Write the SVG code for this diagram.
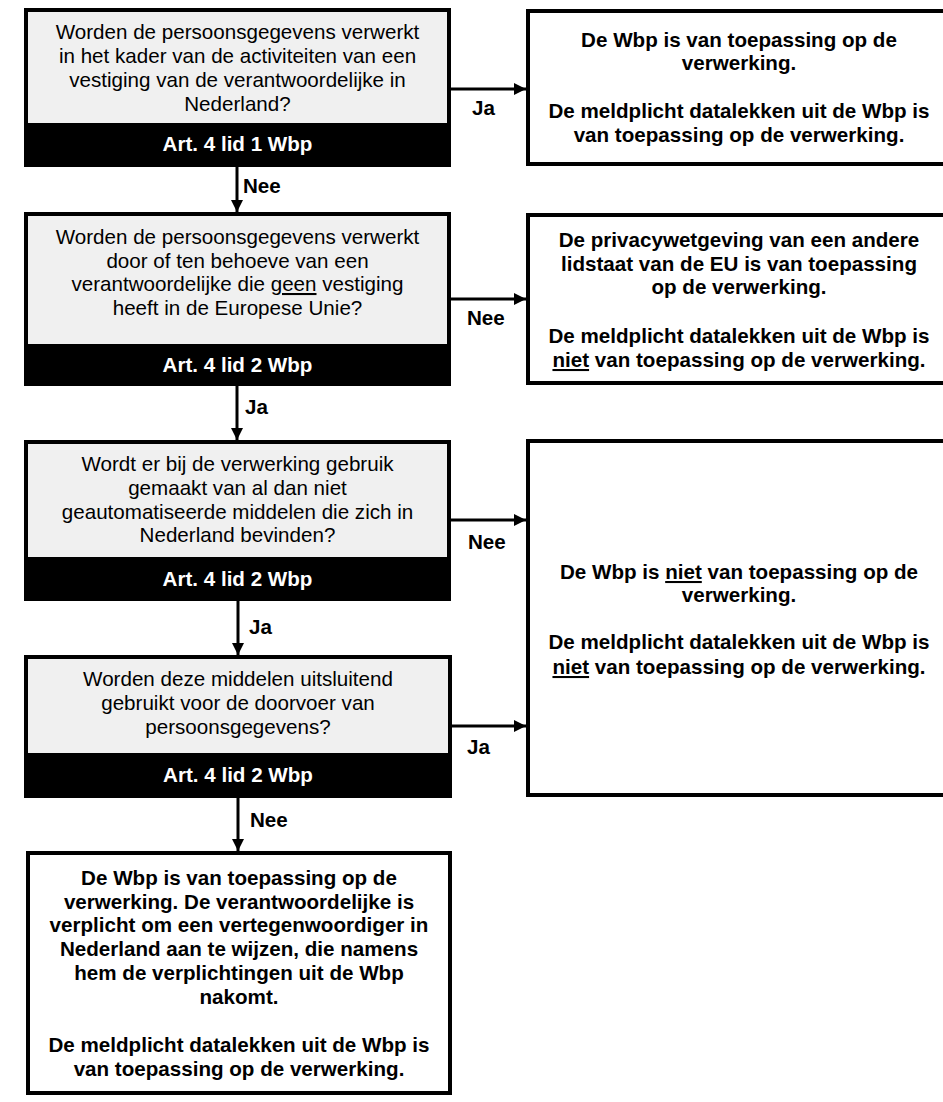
<svg xmlns="http://www.w3.org/2000/svg" width="943" height="1102" viewBox="0 0 943 1102">
<style>
.box{fill:#fff;stroke:#000;stroke-width:4}
.q{fill:#f0f0f0;stroke:#000;stroke-width:4}
.band{fill:#000}
.t{font-family:"Liberation Sans",Arial,sans-serif;font-size:20.6px;fill:#000;text-anchor:middle}
.b{font-family:"Liberation Sans",Arial,sans-serif;font-size:20.6px;font-weight:bold;fill:#000;text-anchor:middle}
.w{font-family:"Liberation Sans",Arial,sans-serif;font-size:20.6px;font-weight:bold;fill:#fff;text-anchor:middle}
.l{font-family:"Liberation Sans",Arial,sans-serif;font-size:20.6px;font-weight:bold;fill:#000}
.u{text-decoration:underline}
.c{stroke:#000;stroke-width:3;fill:none;marker-end:url(#ah)}
</style>
<defs>
<marker id="ah" viewBox="0 0 12 12" refX="12" refY="6" markerWidth="12" markerHeight="12" markerUnits="userSpaceOnUse" orient="auto">
<path d="M0,0 L12,6 L0,12 Z" fill="#000"/>
</marker>
</defs>
<g id="connectors">
<line class="c" x1="451" y1="89" x2="526" y2="89"/>
<line class="c" x1="451" y1="299" x2="526" y2="299"/>
<line class="c" x1="451" y1="520" x2="526" y2="520"/>
<line class="c" x1="452" y1="726" x2="526" y2="726"/>
<line class="c" x1="237" y1="167" x2="237" y2="212"/>
<line class="c" x1="237" y1="386" x2="237" y2="440"/>
<line class="c" x1="238" y1="601" x2="238" y2="655"/>
<line class="c" x1="238" y1="798" x2="238" y2="851"/>
<text class="l" x="472" y="115">Ja</text>
<text class="l" x="467" y="325">Nee</text>
<text class="l" x="468" y="549">Nee</text>
<text class="l" x="467" y="754">Ja</text>
<text class="l" x="243" y="193">Nee</text>
<text class="l" x="245" y="414">Ja</text>
<text class="l" x="249" y="634">Ja</text>
<text class="l" x="250" y="827">Nee</text>
</g>
<g id="q1">
<rect class="q" x="26" y="10" width="423" height="155"/>
<rect class="band" x="26" y="123" width="423" height="42"/>
<text class="t" x="237.5" y="39">Worden de persoonsgegevens verwerkt</text>
<text class="t" x="237.5" y="63">in het kader van de activiteiten van een</text>
<text class="t" x="237.5" y="87">vestiging van de verantwoordelijke in</text>
<text class="t" x="237.5" y="111">Nederland?</text>
<text class="w" x="237.5" y="151">Art. 4 lid 1 Wbp</text>
</g>
<g id="r1">
<rect class="box" x="528" y="11" width="424" height="153"/>
<text class="b" x="739" y="47">De Wbp is van toepassing op de</text>
<text class="b" x="739" y="70">verwerking.</text>
<text class="b" x="739" y="118">De meldplicht datalekken uit de Wbp is</text>
<text class="b" x="739" y="142">van toepassing op de verwerking.</text>
</g>
<g id="q2">
<rect class="q" x="26" y="214" width="423" height="170"/>
<rect class="band" x="26" y="344" width="423" height="40"/>
<text class="t" x="237.5" y="244">Worden de persoonsgegevens verwerkt</text>
<text class="t" x="237.5" y="268">door of ten behoeve van een</text>
<text class="t" x="237.5" y="291">verantwoordelijke die <tspan class="u">geen</tspan> vestiging</text>
<text class="t" x="237.5" y="315">heeft in de Europese Unie?</text>
<text class="w" x="237.5" y="372">Art. 4 lid 2 Wbp</text>
</g>
<g id="r2">
<rect class="box" x="528" y="215" width="424" height="168"/>
<text class="b" x="739" y="247">De privacywetgeving van een andere</text>
<text class="b" x="739" y="271">lidstaat van de EU is van toepassing</text>
<text class="b" x="739" y="294">op de verwerking.</text>
<text class="b" x="739" y="343">De meldplicht datalekken uit de Wbp is</text>
<text class="b" x="739" y="367"><tspan class="u">niet</tspan> van toepassing op de verwerking.</text>
</g>
<g id="q3">
<rect class="q" x="26" y="442" width="423" height="157"/>
<rect class="band" x="26" y="557" width="423" height="42"/>
<text class="t" x="237.5" y="471">Wordt er bij de verwerking gebruik</text>
<text class="t" x="237.5" y="495">gemaakt van al dan niet</text>
<text class="t" x="237.5" y="519">geautomatiseerde middelen die zich in</text>
<text class="t" x="237.5" y="542">Nederland bevinden?</text>
<text class="w" x="237.5" y="586">Art. 4 lid 2 Wbp</text>
</g>
<g id="q4">
<rect class="q" x="26" y="657" width="424" height="139"/>
<rect class="band" x="26" y="753" width="424" height="43"/>
<text class="t" x="238" y="686">Worden deze middelen uitsluitend</text>
<text class="t" x="238" y="710">gebruikt voor de doorvoer van</text>
<text class="t" x="238" y="734">persoonsgegevens?</text>
<text class="w" x="238" y="782">Art. 4 lid 2 Wbp</text>
</g>
<g id="r3">
<rect class="box" x="528" y="441" width="424" height="354"/>
<text class="b" x="739" y="579"><tspan>De Wbp is </tspan><tspan class="u">niet</tspan><tspan> van toepassing op de</tspan></text>
<text class="b" x="739" y="602">verwerking.</text>
<text class="b" x="739" y="649">De meldplicht datalekken uit de Wbp is</text>
<text class="b" x="739" y="674"><tspan class="u">niet</tspan> van toepassing op de verwerking.</text>
</g>
<g id="end">
<rect class="box" x="28" y="853" width="422" height="240"/>
<text class="b" x="239" y="885">De Wbp is van toepassing op de</text>
<text class="b" x="239" y="909">verwerking. De verantwoordelijke is</text>
<text class="b" x="239" y="932">verplicht om een vertegenwoordiger in</text>
<text class="b" x="239" y="956">Nederland aan te wijzen, die namens</text>
<text class="b" x="239" y="980">hem de verplichtingen uit de Wbp</text>
<text class="b" x="239" y="1004">nakomt.</text>
<text class="b" x="239" y="1052">De meldplicht datalekken uit de Wbp is</text>
<text class="b" x="239" y="1076">van toepassing op de verwerking.</text>
</g>
</svg>
